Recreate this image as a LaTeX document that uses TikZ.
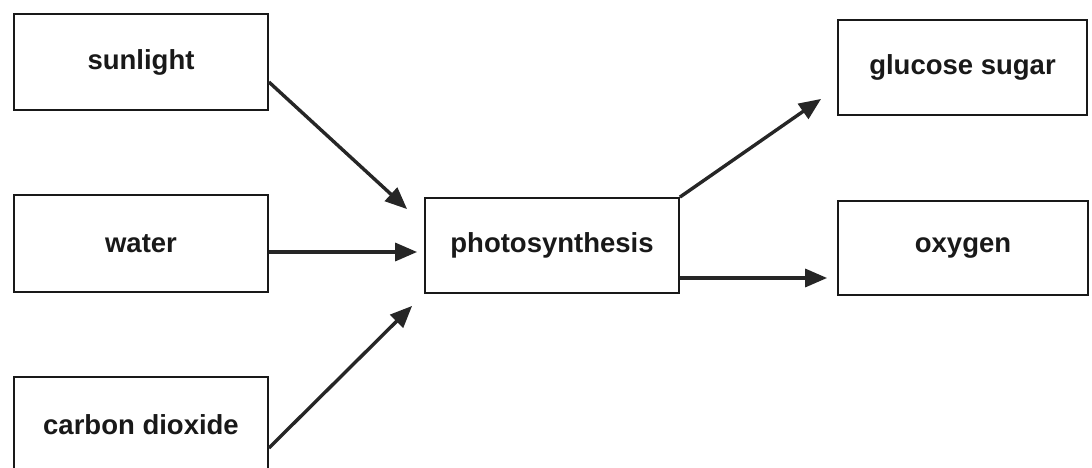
\documentclass[tikz,border=0pt]{standalone}
\usepackage{fontspec}
\setmainfont{Liberation Sans}
\usetikzlibrary{arrows.meta}
\begin{document}
\begin{tikzpicture}[x=1pt,y=-1pt,
  box/.style={draw=black!90,line width=1.8pt,inner sep=0pt,
    font=\fontsize{27.5}{32}\selectfont\bfseries,text=black!90},
  arr/.style={line width=3.4pt,draw=black!85,
    -{Triangle[length=22pt,width=18pt]}}]
\useasboundingbox[fill=white] (0,0) rectangle (1092,468);
\node[box,minimum width=254pt,minimum height=96pt] (sun) at (141,62) {sunlight};
\node[box,minimum width=254pt,minimum height=97pt] (water) at (141,243.5) {water};
\node[box,minimum width=254pt,minimum height=96pt] (co2) at (141,425) {carbon dioxide};
\node[box,minimum width=254pt,minimum height=95pt] (photo) at (552,245.5) {photosynthesis};
\node[box,minimum width=249pt,minimum height=95pt] (gluc) at (962.5,67.5) {glucose sugar};
\node[box,minimum width=250pt,minimum height=94pt] (oxy) at (963,248) {oxygen};
\draw[arr] ([yshift=-20pt]sun.east) -- ([xshift=-17pt,yshift=-12pt]photo.north west);
\draw[arr] ([yshift=-8.5pt]water.east) -- ([xshift=-7pt,yshift=-6.5pt]photo.west);
\draw[arr] ([yshift=-23pt]co2.east) -- ([xshift=-12pt,yshift=-12pt]photo.south west);
\draw[arr] (photo.north east) -- ([xshift=-16pt,yshift=17pt]gluc.south west);
\draw[arr] ([yshift=-32.5pt]photo.east) -- ([xshift=-10pt,yshift=-30pt]oxy.west);
\end{tikzpicture}
\end{document}
